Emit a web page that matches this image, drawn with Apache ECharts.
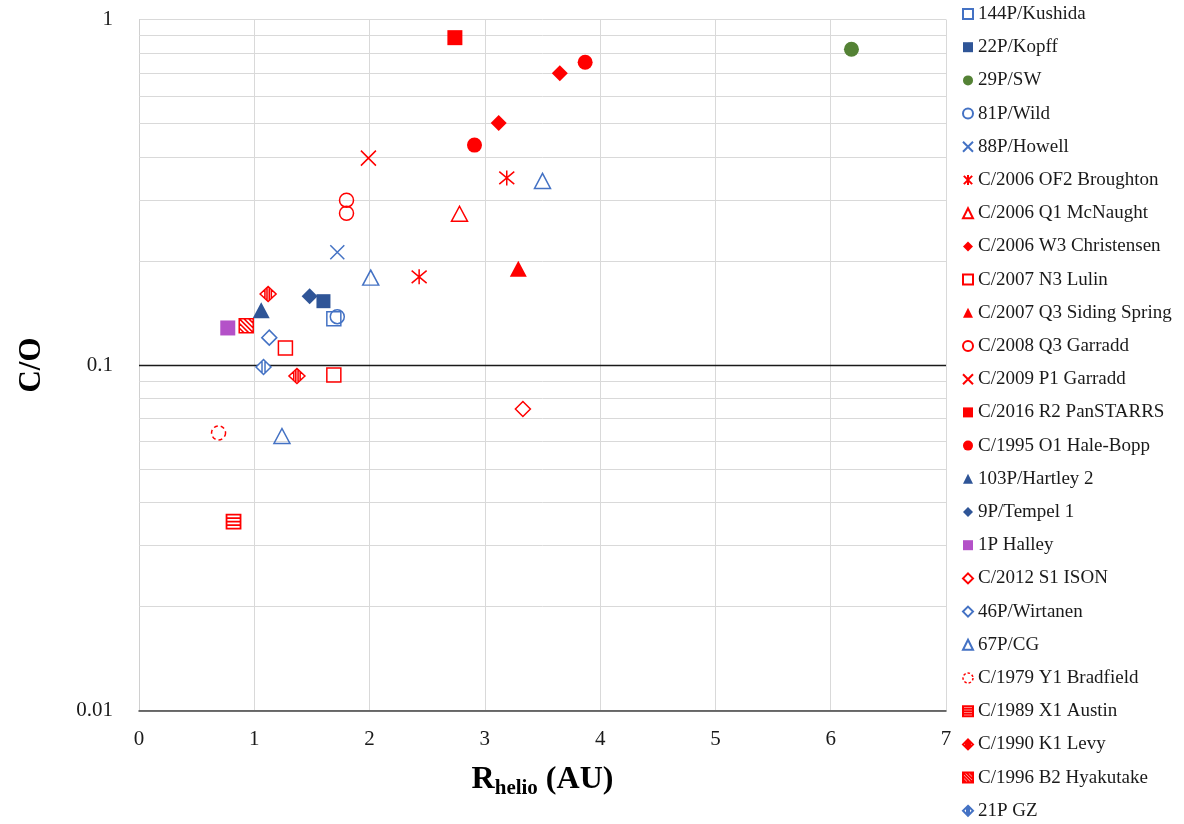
<!DOCTYPE html>
<html>
<head>
<meta charset="utf-8">
<script src="https://cdn.jsdelivr.net/npm/echarts@6/dist/echarts.min.js"></script>
<style>
html,body{margin:0;padding:0;background:#fff;}
#chart{width:1184px;height:824px;}
</style>
</head>
<body>
<div id="chart"></div>
<script>
// ---- Data ----
const cometNames = [
  '144P/Kushida', '22P/Kopff', '29P/SW', '81P/Wild', '88P/Howell',
  'C/2006 OF2 Broughton', 'C/2006 Q1 McNaught', 'C/2006 W3 Christensen',
  'C/2007 N3 Lulin', 'C/2007 Q3 Siding Spring', 'C/2008 Q3 Garradd',
  'C/2009 P1 Garradd', 'C/2016 R2 PanSTARRS', 'C/1995 O1 Hale-Bopp',
  '103P/Hartley 2', '9P/Tempel 1', '1P Halley', 'C/2012 S1 ISON',
  '46P/Wirtanen', '67P/CG', 'C/1979 Y1 Bradfield', 'C/1989 X1 Austin',
  'C/1990 K1 Levy', 'C/1996 B2 Hyakutake', '21P GZ'
];
// heliocentric distance (AU) per comet
const rHelio = [
  [1.69], [1.60], [6.18], [1.72], [1.72],
  [3.19, 2.43], [2.78], [3.12, 3.65],
  [1.27, 1.69], [3.29], [1.80, 1.80],
  [1.99], [2.74], [2.91, 3.87],
  [1.06], [1.48], [0.77], [3.33],
  [1.13], [3.50, 2.01, 1.24], [0.69], [0.82],
  [1.12, 1.37], [0.93], [1.08]
];
// C/O ratio per comet
const coRatio = [
  [0.136], [0.153], [0.82], [0.138], [0.212],
  [0.348, 0.180], [0.274], [0.502, 0.699],
  [0.112, 0.0936], [0.190], [0.300, 0.275],
  [0.397], [0.886], [0.433, 0.752],
  [0.144], [0.158], [0.128], [0.0746],
  [0.120], [0.341, 0.179, 0.0623], [0.0636], [0.0352],
  [0.1606, 0.0929], [0.130], [0.0987]
];
const xTickLabels = ['0', '1', '2', '3', '4', '5', '6', '7'];
const yTickLabels = ['0.01', '0.1', '1'];
const minorGridValues = [0.02, 0.03, 0.04, 0.05, 0.06, 0.07, 0.08, 0.09,
                         0.2, 0.3, 0.4, 0.5, 0.6, 0.7, 0.8, 0.9];
const referenceLine = [0.1];

// ---- Styles ----
const FONT = '"Liberation Serif", "Times New Roman", serif';
const RED = '#FF0000', BLUE = '#4472C4', DBLUE = '#2F5597', GREEN = '#548235', PURPLE = '#B451C8';
const NOFILL = 'rgba(255,255,255,0)';
const SYM = {
  x: 'path://M0,0L10,10M10,0L0,10',
  star: 'path://M0,0L10,10M10,0L0,10M5,-1L5,11',
  hstripe: 'path://M0,0L10,0L10,10L0,10ZM0,2.5L10,2.5M0,5L10,5M0,7.5L10,7.5',
  dstripe: 'path://M0,0L10,0L10,10L0,10ZM0,0L10,10M0,3.3L6.7,10M0,6.7L3.3,10M3.3,0L10,6.7M6.7,0L10,3.3',
  vdiamond: 'path://M5,0L10,5L5,10L0,5ZM3,2L3,8M4.3,0.7L4.3,9.3M5.7,0.7L5.7,9.3M7,2L7,8',
  gzdiamond: 'path://M5,0L10,5L5,10L0,5ZM4,1L4,9M6,1L6,9'
};
function filled(c){ return {color:c, borderWidth:0, opacity:1}; }
function open(c, w){ return {color:NOFILL, borderColor:c, borderWidth:w||1.5, opacity:1}; }
const styles = [
  {symbol:'rect', size:14, item:open(BLUE)},
  {symbol:'rect', size:14, item:filled(DBLUE)},
  {symbol:'circle', size:15, item:filled(GREEN)},
  {symbol:'circle', size:14, item:open(BLUE)},
  {symbol:SYM.x, size:14, item:open(BLUE)},
  {symbol:SYM.star, size:15, item:open(RED)},
  {symbol:'triangle', size:[16,15], item:open(RED)},
  {symbol:'diamond', size:[16,16], item:filled(RED)},
  {symbol:'rect', size:14, item:open(RED)},
  {symbol:'triangle', size:[17,16], item:filled(RED)},
  {symbol:'circle', size:14, item:open(RED)},
  {symbol:SYM.x, size:15, item:open(RED)},
  {symbol:'rect', size:15, item:filled(RED)},
  {symbol:'circle', size:15, item:filled(RED)},
  {symbol:'triangle', size:[17,16], item:filled(DBLUE)},
  {symbol:'diamond', size:[16,16], item:filled(DBLUE)},
  {symbol:'rect', size:15, item:filled(PURPLE)},
  {symbol:'diamond', size:[15,15], item:open(RED)},
  {symbol:'diamond', size:[15,15], item:open(BLUE)},
  {symbol:'triangle', size:[16,15], item:open(BLUE)},
  {symbol:'circle', size:14, item:{color:NOFILL, borderColor:RED, borderWidth:1.5, borderType:[4,3], opacity:1}},
  {symbol:SYM.hstripe, size:14, item:{color:'#fff', borderColor:RED, borderWidth:1.8, opacity:1}},
  {symbol:SYM.vdiamond, size:[16,15], item:{color:'#fff', borderColor:RED, borderWidth:1.5, opacity:1}},
  {symbol:SYM.dstripe, size:14, item:{color:'#fff', borderColor:RED, borderWidth:1.5, opacity:1}},
  {symbol:SYM.gzdiamond, size:[15,15], item:{color:'#fff', borderColor:BLUE, borderWidth:1.5, opacity:1}}
];

const series = [{
  type:'scatter', name:'__grid', data:[], silent:true, z:1, zlevel:0,
  markLine:{
    silent:true, z:1, symbol:['none','none'], label:{show:false}, animation:false,
    lineStyle:{color:'#D9D9D9', width:1, type:'solid'},
    emphasis:{disabled:true},
    data: minorGridValues.map(v => ({yAxis:v}))
      .concat(referenceLine.map(v => ({yAxis:v, lineStyle:{color:'#1a1a1a', width:1.3, type:'solid'}})))
  }
}];
cometNames.forEach((name, i) => {
  const st = styles[i];
  series.push({
    type:'scatter', name:name, z:10,
    symbol: st.symbol, symbolSize: st.size,
    itemStyle: st.item,
    emphasis:{disabled:true},
    data: rHelio[i].map((x, j) => [x, coRatio[i][j]])
  });
});

const legendData = cometNames.map(n => n === 'C/1979 Y1 Bradfield'
  ? {name:n, itemStyle:{borderType:[2.5,2], borderWidth:1.5}} : {name:n});

const chart = echarts.init(document.getElementById('chart'), null, {renderer:'canvas'});
chart.setOption({
  animation:false,
  backgroundColor:'#fff',
  textStyle:{fontFamily:FONT},
  grid:{left:139, right:238, top:19.5, bottom:113.5, containLabel:false},
  legend:{
    data: legendData, orient:'vertical', left:962, top:4, height:820,
    itemWidth:10, itemHeight:10, itemGap:13.2, padding:0,
    textStyle:{fontFamily:FONT, fontSize:19, color:'#1a1a1a', lineHeight:20},
    selectedMode:false
  },
  xAxis:{
    type:'value', min:0, max:7, interval:1,
    name:'{b|R}{s|helio}{b| (AU)}', nameLocation:'middle', nameGap:49,
    nameTextStyle:{rich:{
      b:{fontFamily:FONT, fontSize:32, fontWeight:'bold', color:'#000', lineHeight:40},
      s:{fontFamily:FONT, fontSize:21, fontWeight:'bold', color:'#000', lineHeight:16, verticalAlign:'bottom'}
    }},
    axisLine:{show:true, onZero:false, lineStyle:{color:'#404040', width:1.5}},
    axisTick:{show:false},
    axisLabel:{fontFamily:FONT, fontSize:21, color:'#1a1a1a', margin:18,
      formatter:(v) => xTickLabels[Math.round(v)]},
    splitLine:{show:true, lineStyle:{color:'#D9D9D9', width:1}}
  },
  yAxis:{
    type:'log', logBase:10, min:0.01, max:1,
    name:'C/O', nameLocation:'middle', nameRotate:90, nameGap:92,
    nameTextStyle:{fontFamily:FONT, fontSize:31, fontWeight:'bold', color:'#000'},
    axisLine:{show:true, lineStyle:{color:'#D0D0D0', width:1}},
    axisTick:{show:false},
    axisLabel:{fontFamily:FONT, fontSize:21, color:'#1a1a1a', margin:26,
      formatter:(v) => yTickLabels[Math.round(Math.log10(v)) + 2]},
    splitLine:{show:true, lineStyle:{color:'#D9D9D9', width:1}}
  },
  series: series
});
</script>
</body>
</html>
